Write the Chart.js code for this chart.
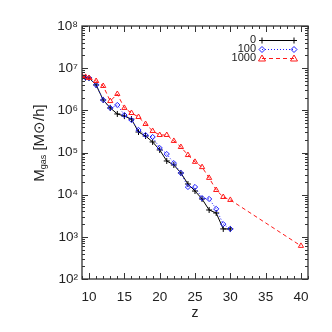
<!DOCTYPE html>
<html>
<head>
<meta charset="UTF-8" />
<title>Mgas vs z</title>
<script src="https://cdn.jsdelivr.net/npm/chart.js"></script>
<style>
  html, body { margin: 0; padding: 0; background: #fff; }
  #wrap { width: 332px; height: 332px; }
</style>
</head>
<body>
<div id="wrap"><canvas id="c" width="332" height="332"></canvas></div>
<script>
  // redshift of each output
  const redshift = [9, 9.5, 10, 11, 12, 13, 14, 15, 16, 17, 18, 19, 20, 21, 22, 23, 24, 25, 26, 27, 28, 29, 30];
  const redshiftRed = [9, 9.5, 10, 11, 12, 13, 14, 15, 16, 17, 18, 19, 20, 21, 22, 23, 24, 25, 26, 27, 28, 29, 30, 40];

  // gas mass [Msun/h]
  const mass0 = [6.2e6, 6.0e6, 5.85e6, 4.0e6, 1.76e6, 1.14e6, 8.2e5, 7.3e5, 6.2e5, 3.06e5, 2.46e5, 1.78e5, 1.15e5, 6.3e4, 5.06e4, 3.27e4, 1.79e4, 1.22e4, 7.9e3, 4.33e3, 3.68e3, 1.54e3, 1.54e3];
  const mass100 = [6.2e6, 6.0e6, 5.85e6, 4.0e6, 1.76e6, 1.14e6, 1.34e6, 7.75e5, 5.9e5, 3.42e5, 2.6e5, 2.33e5, 1.28e5, 9.2e4, 5.6e4, 3.27e4, 1.52e4, 1.52e4, 8.3e3, 7.9e3, 4.6e3, 2.0e3, 1.54e3];
  const mass1000 = [6.5e6, 6.2e6, 5.85e6, 4.96e6, 3.78e6, 1.66e6, 2.44e6, 1.14e6, 8.65e5, 6.95e5, 4.74e5, 3.24e5, 2.6e5, 2.6e5, 1.88e5, 1.35e5, 8.7e4, 6.0e4, 4.5e4, 2.5e4, 1.29e4, 8.8e3, 7.5e3, 6.1e2];

  const seriesLabels = ['0', '100', '1000'];
  const xTicks = [10, 15, 20, 25, 30, 35, 40];
  const yTickExp = [2, 3, 4, 5, 6, 7, 8];

  const FONT = "'Liberation Sans', Arial, sans-serif";
  const INK = '#222';
  const sup = { 2: '²', 3: '³', 4: '⁴', 5: '⁵', 6: '⁶', 7: '⁷', 8: '⁸' };

  const pts = (xs, ys) => xs.map((x, i) => ({ x: x, y: ys[i] }));

  function marker(ctx, kind, x, y, color) {
    ctx.save();
    ctx.strokeStyle = color;
    ctx.lineWidth = 1;
    ctx.setLineDash([]);
    ctx.beginPath();
    if (kind === 'cross') {
      ctx.moveTo(x - 3, y); ctx.lineTo(x + 3, y);
      ctx.moveTo(x, y - 3); ctx.lineTo(x, y + 3);
    } else if (kind === 'rectRot') {
      ctx.moveTo(x, y - 3); ctx.lineTo(x + 3, y); ctx.lineTo(x, y + 3); ctx.lineTo(x - 3, y); ctx.closePath();
    } else {
      ctx.moveTo(x, y - 3.5); ctx.lineTo(x + 3.5, y + 2.5); ctx.lineTo(x - 3.5, y + 2.5); ctx.closePath();
    }
    ctx.stroke();
    ctx.restore();
  }

  // frame with inward ticks, y title and legend
  const idlFrame = {
    id: 'idlFrame',
    afterDraw(chart) {
      const { ctx, chartArea: a, scales } = chart;
      const xs = scales.x, ys = scales.y;
      ctx.save();
      ctx.strokeStyle = '#333';
      ctx.lineWidth = 1.3;
      ctx.strokeRect(a.left, a.top, a.right - a.left, a.bottom - a.top);
      ctx.lineWidth = 1;
      ctx.beginPath();
      for (let v = 9; v <= 41; v++) {
        const px = Math.round(xs.getPixelForValue(v)) + 0.5;
        const len = v % 5 === 0 ? 6 : 3;
        ctx.moveTo(px, a.bottom); ctx.lineTo(px, a.bottom - len);
        ctx.moveTo(px, a.top); ctx.lineTo(px, a.top + len);
      }
      for (let e = 2; e <= 8; e++) {
        for (let k = 1; k <= 9; k++) {
          if (e === 8 && k > 1) break;
          const py = Math.round(ys.getPixelForValue(k * Math.pow(10, e))) + 0.5;
          const len = k === 1 ? 6 : 3;
          ctx.moveTo(a.left, py); ctx.lineTo(a.left + len, py);
          ctx.moveTo(a.right, py); ctx.lineTo(a.right - len, py);
        }
      }
      ctx.stroke();

      // y axis title: M_gas [M⊙/h]
      ctx.fillStyle = INK;
      ctx.translate(40, 143);
      ctx.rotate(-Math.PI / 2);
      const big = '15px ' + FONT, small = '9px ' + FONT;
      ctx.font = big; const wM = ctx.measureText('M').width;
      ctx.font = small; const wSub = ctx.measureText('gas').width;
      ctx.font = big; const wRest = ctx.measureText(' [M⊙/h]').width;
      let x0 = -(wM + wSub + wRest) / 2;
      ctx.textBaseline = 'middle';
      ctx.font = big; ctx.fillText('M', x0, 0); x0 += wM;
      ctx.font = small; ctx.fillText('gas', x0, 4); x0 += wSub;
      ctx.font = big; ctx.fillText(' [M⊙/h]', x0, 0);
      ctx.restore();

      // legend
      const rows = [
        { y: 40, color: '#000', dash: [], kind: 'cross' },
        { y: 49, color: '#1a1aff', dash: [1, 2], kind: 'rectRot' },
        { y: 58, color: '#ff1a1a', dash: [4, 3], kind: 'triangle' }
      ];
      ctx.save();
      ctx.font = '11px ' + FONT;
      ctx.textAlign = 'right';
      ctx.textBaseline = 'middle';
      rows.forEach((r, i) => {
        ctx.fillStyle = INK;
        ctx.fillText(seriesLabels[i], 256, r.y);
        ctx.strokeStyle = r.color;
        ctx.lineWidth = 1;
        ctx.setLineDash(r.dash);
        ctx.beginPath(); ctx.moveTo(262, r.y + 0.5); ctx.lineTo(294, r.y + 0.5); ctx.stroke();
        marker(ctx, r.kind, 262, r.y + 0.5, r.color);
        marker(ctx, r.kind, 294, r.y + 0.5, r.color);
      });
      ctx.restore();
    }
  };

  new Chart(document.getElementById('c'), {
    type: 'line',
    data: {
      datasets: [
        {
          label: seriesLabels[0], data: pts(redshift, mass0), order: 2,
          borderColor: '#000', borderWidth: 1, pointStyle: 'cross', pointRadius: 3,
          pointBorderColor: '#000', pointBorderWidth: 1, fill: false
        },
        {
          label: seriesLabels[1], data: pts(redshift, mass100), order: 1,
          borderColor: '#1a1aff', borderWidth: 1, borderDash: [1, 2], pointStyle: 'rectRot', pointRadius: 2.6,
          pointBorderColor: '#1a1aff', pointBackgroundColor: 'rgba(0,0,0,0)', pointBorderWidth: 1, fill: false
        },
        {
          label: seriesLabels[2], data: pts(redshiftRed, mass1000), order: 0,
          borderColor: '#ff1a1a', borderWidth: 1, borderDash: [4, 3], pointStyle: 'triangle', pointRadius: 3,
          pointBorderColor: '#ff1a1a', pointBackgroundColor: 'rgba(0,0,0,0)', pointBorderWidth: 1, fill: false
        }
      ]
    },
    options: {
      responsive: false,
      animation: false,
      layout: { padding: { left: 0, right: 24, top: 26, bottom: 0 } },
      plugins: { legend: { display: false }, tooltip: { enabled: false } },
      scales: {
        x: {
          type: 'linear', min: 9, max: 41,
          grid: { display: false, drawTicks: false },
          border: { display: false },
          afterBuildTicks: s => { s.ticks = xTicks.map(v => ({ value: v })); },
          afterFit: s => { s.height = 53; },
          ticks: { padding: 10, color: INK, maxRotation: 0, autoSkip: false, font: { size: 13.5, family: FONT } },
          title: { display: true, text: 'z', color: INK, font: { size: 14, family: FONT }, padding: { top: 0, bottom: 10 } }
        },
        y: {
          type: 'logarithmic', min: 100, max: 1e8,
          grid: { display: false, drawTicks: false },
          border: { display: false },
          afterBuildTicks: s => { s.ticks = yTickExp.map(e => ({ value: Math.pow(10, e) })); },
          afterFit: s => { s.width = 82; },
          ticks: {
            padding: 4, color: INK, autoSkip: false, font: { size: 13.5, family: FONT },
            callback: v => '10' + sup[Math.round(Math.log10(v))]
          }
        }
      }
    },
    plugins: [idlFrame]
  });
</script>
</body>
</html>
